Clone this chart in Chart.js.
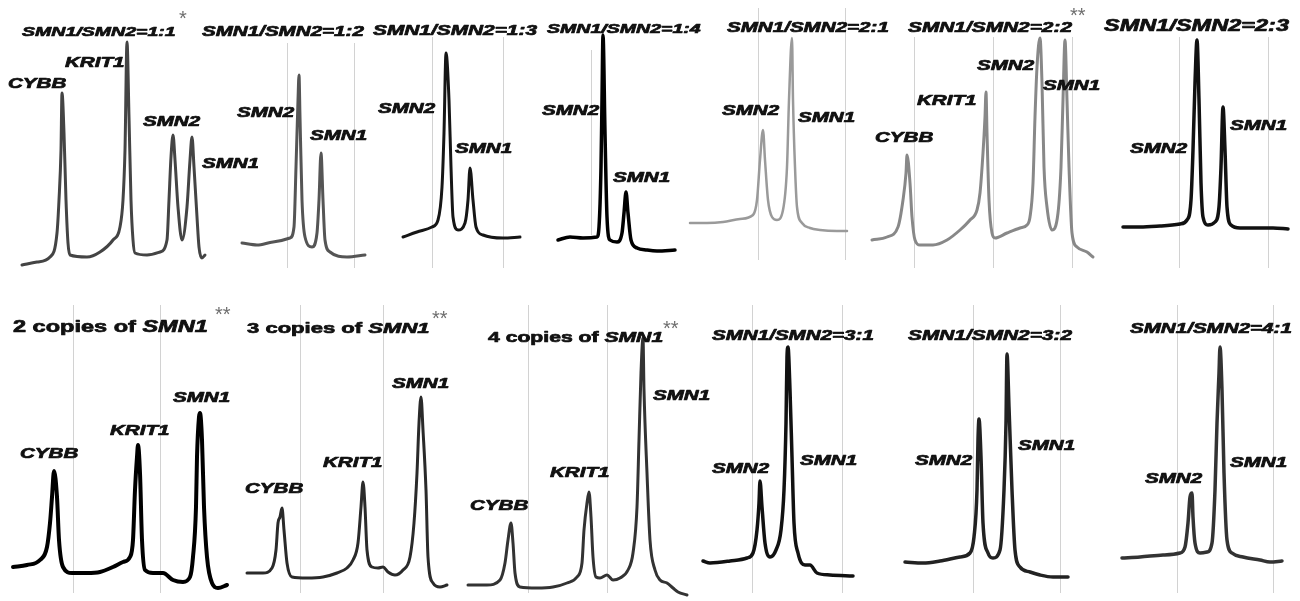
<!DOCTYPE html>
<html>
<head>
<meta charset="utf-8">
<script src="https://cdn.jsdelivr.net/npm/chart.js@4"></script>
<style>
  html, body { margin: 0; padding: 0; background: #fff; }
  #board { position: relative; width: 1300px; height: 601px; overflow: hidden; background: #fff; }
  #board canvas { position: absolute; }
</style>
</head>
<body>
<div id="board"></div>
<script>
// x = migration position, y = signal above row base
const p1X = [22,37,50,57,59,61,62,64,66,68,70,87,100,113,120,123,125,127,129,131,133,135,147,160,167,169,171,173,175,178,182,187,190,192,194,197,199,202,205];
const p1Y = [5,8,13,37,70,120,177,137,70,27,15,13,18,30,43,70,120,228,153,70,30,17,15,18,30,70,113,135,110,63,30,63,110,133,103,53,23,12,15];

const p2X = [242,257,273,290,294,296,298,299,300,302,305,312,317,319,321,323,325,330,347,365];
const p2Y = [27,25,28,32,43,103,170,195,153,70,33,23,37,70,117,70,30,18,13,15];

const p3X = [403,417,432,438,442,444,446,449,451,453,458,465,468,470,473,476,483,503,520];
const p3Y = [33,38,43,50,83,137,217,170,103,53,40,47,70,102,70,43,35,32,33];

const p4X = [558,570,583,597,599,601,602,603,605,607,610,617,622,624,626,628,631,637,647,657,675];
const p4Y = [30,33,32,33,43,103,170,235,137,53,30,28,37,57,78,57,30,22,20,19,20];

const p5X = [690,707,723,740,753,757,760,763,765,768,772,777,783,787,789,792,793,795,797,802,810,820,837,847];
const p5Y = [47,47,48,51,55,70,110,140,110,70,53,50,60,103,170,232,170,103,63,47,42,40,39,39];

const p6X = [872,887,898,903,906,907,910,912,915,920,933,947,960,970,977,980,983,985,986,987,989,992,995,1007,1020,1027,1030,1033,1035,1037,1040,1042,1044,1047,1052,1058,1061,1063,1065,1067,1069,1072,1077,1087,1093];
const p6Y = [30,33,43,70,97,115,87,53,30,25,25,30,40,50,60,77,117,153,178,137,70,37,32,37,42,45,53,87,153,203,232,187,103,63,40,57,103,170,230,170,103,37,23,18,13];

const p7X = [1123,1140,1160,1180,1187,1191,1193,1195,1197,1199,1201,1203,1208,1215,1219,1221,1223,1225,1227,1231,1240,1257,1273,1288];
const p7Y = [43,43,44,46,50,70,120,187,230,170,87,53,45,48,63,103,163,120,63,45,42,42,42,41];

const p8X = [13,27,40,47,50,52,54,57,59,63,72,87,100,113,123,130,133,135,137,138,140,142,145,153,163,173,183,190,193,196,197,199,200,202,204,207,212,218,227];
const p8Y = [33,35,40,53,77,103,129,103,60,33,27,27,28,33,38,43,60,110,143,155,127,60,30,27,27,20,18,23,43,93,143,183,187,160,93,43,17,12,15];

const p9X = [247,263,272,276,278,280,282,284,287,292,307,323,337,347,353,358,361,363,365,367,372,378,383,388,395,403,410,414,417,419,421,423,426,428,433,440,447];
const p9Y = [27,27,32,50,77,83,92,70,37,23,22,23,27,32,40,57,93,118,93,50,33,32,33,28,25,30,43,77,127,177,203,170,110,43,17,13,15];

const p10X = [468,487,500,505,508,511,513,515,520,537,553,567,577,582,584,587,589,591,593,596,600,607,613,620,628,633,637,639,641,643,644,647,650,655,660,667,673,678,687];
const p10Y = [15,15,20,37,60,77,57,27,13,12,13,17,23,37,70,97,108,83,43,23,22,25,20,22,30,47,93,160,227,262,210,127,60,30,20,17,12,8,5];

const p11X = [703,710,730,747,753,757,759,760,762,765,770,776,781,784,786,787,788,790,792,794,798,805,810,817,830,853];
const p11Y = [39,37,39,42,47,70,97,119,93,57,43,50,70,110,177,243,253,210,143,77,47,35,35,27,25,24];

const p12X = [905,923,940,960,970,974,977,978,979,981,983,988,993,1000,1004,1006,1007,1009,1012,1015,1020,1030,1040,1053,1068];
const p12Y = [38,37,39,43,47,63,110,160,181,143,77,47,42,50,110,177,246,193,110,50,33,28,25,23,23];

const p13X = [1122,1140,1163,1180,1185,1188,1190,1192,1193,1195,1200,1207,1212,1215,1217,1219,1220,1222,1224,1227,1232,1243,1260,1270,1282];
const p13Y = [42,43,45,47,53,77,103,107,83,57,47,48,57,110,177,227,253,210,127,60,47,43,40,38,39];

// reference lines (x positions)
const p2Grid = [287,354];
const p3Grid = [432,503];
const p4Grid = [591];
const p5Grid = [758,845];
const p6Grid = [914,993,1072];
const p7Grid = [1179,1268];
const p8Grid = [73,160];
const p9Grid = [300,383];
const p10Grid = [528,607];
const p11Grid = [752,842];
const p12Grid = [973,1060];
const p13Grid = [1177,1273];

const STRETCH = 1.47;   // the scanned lettering is wide
const FACE = "'Liberation Sans', Arial, sans-serif";

const TOP = { top: 0, height: 280, base: 270, gridTop: 37, gridBottom: 268 };
const BOT = { top: 290, height: 311, base: 600, gridTop: 305, gridBottom: 593 };

function ratio(r) { return [{ t: 'SMN1/SMN2=' + r, it: true }]; }
function copies(n) { return [{ t: n + ' copies of ', it: false }, { t: 'SMN1', it: true }]; }

const panels = [
  { row: TOP, left: 0, width: 258, xs: p1X, ys: p1Y, grid: [], color: '#444', lw: 3,
    title: ratio('1:1'), tx: 22, ty: 36, tsize: 13.3, star: '*', sx: 179, sy: 9,
    labels: [['CYBB', 8, 88], ['KRIT1', 65, 67], ['SMN2', 143, 126], ['SMN1', 202, 168]] },
  { row: TOP, left: 198, width: 180, xs: p2X, ys: p2Y, grid: p2Grid, gridTop: 43, color: '#555', lw: 3,
    title: ratio('1:2'), tx: 202, ty: 36, tsize: 14,
    labels: [['SMN2', 237, 117], ['SMN1', 310, 140]] },
  { row: TOP, left: 370, width: 175, xs: p3X, ys: p3Y, grid: p3Grid, color: '#161616', lw: 3,
    title: ratio('1:3'), tx: 373, ty: 35, tsize: 14.2,
    labels: [['SMN2', 378, 113], ['SMN1', 455, 153]] },
  { row: TOP, left: 535, width: 170, xs: p4X, ys: p4Y, grid: p4Grid, gridTop: 50, gridBottom: 235, color: '#000', lw: 3.5,
    title: ratio('1:4'), tx: 547, ty: 33, tsize: 13.3,
    labels: [['SMN2', 542, 115], ['SMN1', 613, 182]] },
  { row: TOP, left: 680, width: 215, xs: p5X, ys: p5Y, grid: p5Grid, gridTop: 8, gridBottom: 260, color: '#9a9a9a', lw: 2.5,
    title: ratio('2:1'), tx: 727, ty: 32, tsize: 14,
    labels: [['SMN2', 722, 115], ['SMN1', 798, 122]] },
  { row: TOP, left: 860, width: 245, xs: p6X, ys: p6Y, grid: p6Grid, color: '#888', lw: 3,
    title: ratio('2:2'), tx: 908, ty: 32, tsize: 14.2, star: '**', sx: 1070, sy: 6,
    labels: [['CYBB', 875, 142], ['KRIT1', 917, 105], ['SMN2', 977, 70], ['SMN1', 1043, 90]] },
  { row: TOP, left: 1095, width: 205, xs: p7X, ys: p7Y, grid: p7Grid, color: '#111', lw: 3.5,
    title: ratio('2:3'), tx: 1104, ty: 31, tsize: 16,
    labels: [['SMN1', 1230, 130], ['SMN2', 1130, 153]] },
  { row: BOT, left: 0, width: 240, xs: p8X, ys: p8Y, grid: p8Grid, color: '#000', lw: 4,
    title: copies(2), tx: 13, ty: 332, tsize: 16, star: '**', sx: 215, sy: 305,
    labels: [['CYBB', 20, 458], ['KRIT1', 110, 435], ['SMN1', 173, 402]] },
  { row: BOT, left: 235, width: 225, xs: p9X, ys: p9Y, grid: p9Grid, color: '#2a2a2a', lw: 3,
    title: copies(3), tx: 247, ty: 333, tsize: 15, star: '**', sx: 432, sy: 309,
    labels: [['CYBB', 245, 493], ['KRIT1', 323, 467], ['SMN1', 392, 388]] },
  { row: BOT, left: 460, width: 255, xs: p10X, ys: p10Y, grid: p10Grid, color: '#333', lw: 3,
    title: copies(4), tx: 488, ty: 342, tsize: 14.4, star: '**', sx: 663, sy: 319,
    labels: [['CYBB', 470, 510], ['KRIT1', 550, 477], ['SMN1', 653, 400]] },
  { row: BOT, left: 690, width: 190, xs: p11X, ys: p11Y, grid: p11Grid, color: '#111', lw: 3.5,
    title: ratio('3:1'), tx: 712, ty: 340, tsize: 14,
    labels: [['SMN2', 712, 473], ['SMN1', 800, 465]] },
  { row: BOT, left: 880, width: 210, xs: p12X, ys: p12Y, grid: p12Grid, color: '#222', lw: 3.5,
    title: ratio('3:2'), tx: 908, ty: 340, tsize: 14.2,
    labels: [['SMN2', 915, 465], ['SMN1', 1018, 450]] },
  { row: BOT, left: 1100, width: 200, xs: p13X, ys: p13Y, grid: p13Grid, color: '#333', lw: 3.5,
    title: ratio('4:1'), tx: 1130, ty: 333, tsize: 14,
    labels: [['SMN2', 1145, 483], ['SMN1', 1230, 467]] }
];

// bold scanned lettering: fill plus a thin stroke, stretched sideways
function stretchedText(ctx, text, px, py, font) {
  ctx.save();
  ctx.font = font;
  ctx.translate(px, py);
  ctx.scale(STRETCH, 1);
  ctx.lineWidth = 0.7;
  ctx.strokeStyle = ctx.fillStyle;
  ctx.lineJoin = 'round';
  ctx.fillText(text, 0, 0);
  ctx.strokeText(text, 0, 0);
  const w = ctx.measureText(text).width * STRETCH;
  ctx.restore();
  return w;
}

function makeDecor(p) {
  const base = p.row.base;
  return {
    id: 'panelDecor',
    beforeDatasetsDraw(chart) {
      const { ctx, scales: { x, y } } = chart;
      const y1 = y.getPixelForValue(base - (p.gridTop ?? p.row.gridTop));
      const y2 = y.getPixelForValue(base - (p.gridBottom ?? p.row.gridBottom));
      ctx.save();
      ctx.strokeStyle = '#d2d2d2';
      ctx.lineWidth = 1;
      p.grid.forEach(g => {
        const gx = Math.round(x.getPixelForValue(g)) + 0.5;
        ctx.beginPath();
        ctx.moveTo(gx, y1);
        ctx.lineTo(gx, y2);
        ctx.stroke();
      });
      ctx.restore();
    },
    afterDatasetsDraw(chart) {
      const { ctx, scales: { x, y } } = chart;
      ctx.save();
      ctx.fillStyle = '#111';
      ctx.textBaseline = 'alphabetic';
      // title, mixed upright / italic runs
      let cx = x.getPixelForValue(p.tx);
      const cy = y.getPixelForValue(base - p.ty);
      p.title.forEach(seg => {
        const f = (seg.it ? 'italic ' : '') + 'bold ' + p.tsize + 'px ' + FACE;
        cx += stretchedText(ctx, seg.t, cx, cy, f);
      });
      // peak names
      p.labels.forEach(([t, lx, ly]) => {
        stretchedText(ctx, t, x.getPixelForValue(lx), y.getPixelForValue(base - ly),
          'italic bold 14px ' + FACE);
      });
      if (p.star) {
        ctx.fillStyle = '#6e6e6e';
        ctx.font = '20px ' + FACE;
        ctx.textBaseline = 'top';
        ctx.fillText(p.star, x.getPixelForValue(p.sx), y.getPixelForValue(base - p.sy));
      }
      ctx.restore();
    }
  };
}

const board = document.getElementById('board');
panels.forEach(p => {
  const cv = document.createElement('canvas');
  cv.width = p.width;
  cv.height = p.row.height;
  cv.style.left = p.left + 'px';
  cv.style.top = p.row.top + 'px';
  cv.style.width = p.width + 'px';
  cv.style.height = p.row.height + 'px';
  board.appendChild(cv);

  new Chart(cv.getContext('2d'), {
    type: 'line',
    data: {
      datasets: [{
        data: p.xs.map((v, i) => ({ x: v, y: p.ys[i] })),
        borderColor: p.color,
        borderWidth: p.lw,
        pointRadius: 0,
        fill: false,
        cubicInterpolationMode: 'monotone',
        borderJoinStyle: 'round',
        borderCapStyle: 'round'
      }]
    },
    options: {
      responsive: false,
      animation: false,
      events: [],
      layout: { padding: 0 },
      plugins: { legend: { display: false }, tooltip: { enabled: false } },
      scales: {
        x: { type: 'linear', display: false, min: p.left, max: p.left + p.width },
        y: { display: false, min: p.row.base - (p.row.top + p.row.height), max: p.row.base - p.row.top }
      }
    },
    plugins: [makeDecor(p)]
  });
});
</script>
</body>
</html>
